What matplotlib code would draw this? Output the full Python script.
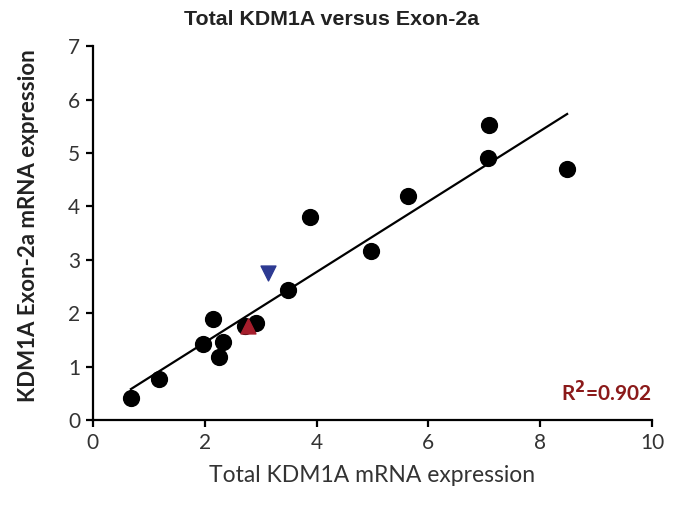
import numpy as np
import matplotlib
matplotlib.use("Agg")
import matplotlib.pyplot as plt

# ── data ─────────────────────────────────────────────────────────────────────
total_kdm1a = [0.68, 1.18, 1.97, 2.15, 2.25, 2.32, 2.72, 2.92, 3.49, 3.88,
               4.97, 5.63, 7.06, 7.08, 8.48]
exon_2a     = [0.42, 0.77, 1.43, 1.90, 1.18, 1.47, 1.76, 1.81, 2.44, 3.80,
               3.17, 4.19, 4.90, 5.53, 4.70]

up_tri_x, up_tri_y = [2.78], [1.76]
down_tri_x, down_tri_y = [3.13], [2.75]

r2_label = "R$^\\mathbf{2}$=0.902"

# ── figure ───────────────────────────────────────────────────────────────────
fig = plt.figure(figsize=(6.73, 5.13), dpi=100)
ax = fig.add_axes([0.138, 0.181, 0.831, 0.729])

x = np.array(total_kdm1a)
y = np.array(exon_2a)
slope, icpt = np.polyfit(x, y, 1)
xl = np.array([x.min(), x.max()])
ax.plot(xl, slope * xl + icpt, color="black", lw=1.6, zorder=2)

ax.scatter(x, y, s=130, color="black", zorder=3)
ax.scatter(up_tri_x, up_tri_y, s=115, marker="^", color="#A51E2C", zorder=4)
ax.scatter(down_tri_x, down_tri_y, s=115, marker="v", color="#2D3A92", zorder=4)

ax.set_xlim(0, 10)
ax.set_ylim(0, 7)
ax.set_xticks(range(0, 11, 2))
ax.set_yticks(range(0, 8))

for side in ("top", "right"):
    ax.spines[side].set_visible(False)
for side in ("left", "bottom"):
    ax.spines[side].set_linewidth(1.6)
ax.tick_params(direction="out", length=5, width=1.6, labelsize=15, pad=4)
for lbl in ax.get_xticklabels() + ax.get_yticklabels():
    lbl.set_family("Lato")
    lbl.set_color("#333333")

fig.text(0.492, 0.962, "Total KDM1A versus Exon-2a", ha="center", va="center",
         fontsize=15.4, fontweight="bold", family="Liberation Sans",
         color="#222222")
ax.set_xlabel("Total KDM1A mRNA expression", fontsize=16.5, family="Lato",
              color="#333333", labelpad=9)
ax.set_ylabel("KDM1A Exon-2a mRNA expression", fontsize=16,
              fontweight="bold", family="Lato", color="#222222")
ax.yaxis.set_label_coords(-0.097, 0.52)

ax.text(1.0, 0.04, r2_label, transform=ax.transAxes, ha="right",
        va="bottom", fontsize=15, fontweight="bold", color="#8B1A1A",
        family="Lato")

fig.savefig("out.png", dpi=100)
